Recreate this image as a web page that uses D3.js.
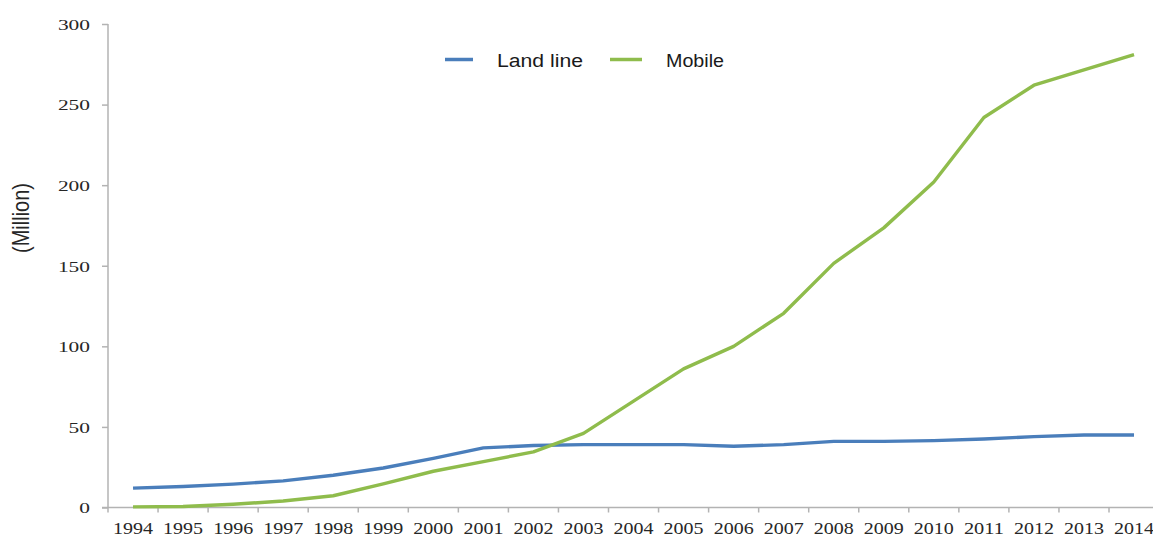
<!DOCTYPE html>
<html>
<head>
<meta charset="utf-8">
<script src="https://cdn.jsdelivr.net/npm/d3@7"></script>
<style>
  html, body { margin: 0; padding: 0; background: #fff; }
  svg { display: block; }
</style>
</head>
<body>
<svg id="chart" width="1153" height="537"></svg>
<script>
// Telephone subscribers by year, in millions
const years = ["1994","1995","1996","1997","1998","1999","2000","2001","2002","2003","2004",
               "2005","2006","2007","2008","2009","2010","2011","2012","2013","2014"];
const landLine = [12, 13, 14.5, 16.5, 20, 24.5, 30.5, 37, 38.5, 39, 39,
                  39, 38, 39, 41, 41, 41.5, 42.5, 44, 45, 45];
const mobile = [0.4, 0.6, 2, 4, 7.3, 14.6, 22.5, 28.5, 34.5, 46, 66,
                86, 100, 120.5, 151.5, 173.5, 202, 242, 262, 271.5, 281];
const yTicks = [0, 50, 100, 150, 200, 250, 300];
const seriesNames = ["Land line", "Mobile"];

const colors = { "Land line": "#4a7ebb", "Mobile": "#8fbc4c" };
const svg = d3.select("#chart");

const plotLeft = 108, plotBottom = 507.5, plotTop = 24;
const step = 50.05;

const x = d3.scaleBand().domain(years).range([plotLeft, plotLeft + step * years.length]).padding(0);
const y = d3.scaleLinear().domain([0, 300]).range([plotBottom, plotTop]);

const axisColor = "#b3b3b3";
const labelColor = "#262626";

// Y axis
const yAxis = svg.append("g")
  .attr("transform", `translate(${plotLeft},0)`)
  .call(d3.axisLeft(y).tickValues(yTicks).tickSize(6).tickPadding(12));
yAxis.select(".domain").attr("stroke", axisColor).attr("stroke-width", 1.5)
  .attr("d", `M0,${plotTop}V${plotBottom}`);
yAxis.selectAll(".tick line").attr("stroke", axisColor).attr("stroke-width", 1.5);
yAxis.selectAll(".tick text")
  .attr("font-family", "'Liberation Serif', 'Times New Roman', serif")
  .attr("font-size", 15.5)
  .attr("fill", labelColor)
  .attr("dy", "0.34em")
  .attr("lengthAdjust", "spacingAndGlyphs")
  .attr("textLength", d => String(d).length * 10.7);

// X axis with ticks between categories
const xAxis = svg.append("g")
  .attr("transform", `translate(0,${plotBottom})`);
xAxis.append("line")
  .attr("x1", plotLeft - 6).attr("x2", 1153)
  .attr("y1", 0).attr("y2", 0)
  .attr("stroke", axisColor).attr("stroke-width", 1.5);
xAxis.selectAll("line.tk")
  .data(years)
  .join("line")
  .attr("class", "tk")
  .attr("x1", d => x(d)).attr("x2", d => x(d))
  .attr("y1", 0).attr("y2", 5)
  .attr("stroke", axisColor).attr("stroke-width", 1.5);
xAxis.selectAll("text.yr")
  .data(years)
  .join("text")
  .attr("class", "yr")
  .attr("x", d => x(d) + x.bandwidth() / 2)
  .attr("y", 26.5)
  .attr("text-anchor", "middle")
  .attr("font-family", "'Liberation Serif', 'Times New Roman', serif")
  .attr("font-size", 16)
  .attr("fill", labelColor)
  .attr("lengthAdjust", "spacingAndGlyphs")
  .attr("textLength", 40)
  .text(d => d);

// Y axis title
svg.append("text")
  .attr("transform", "translate(29,218) rotate(-90) scale(1,1.3)")
  .attr("text-anchor", "middle")
  .attr("font-family", "'Liberation Sans', Arial, sans-serif")
  .attr("font-size", 18)
  .attr("fill", "#262626")
  .attr("lengthAdjust", "spacingAndGlyphs")
  .attr("textLength", 70)
  .text("(Million)");

// Lines
const line = d3.line()
  .x((d, i) => x(years[i]) + x.bandwidth() / 2)
  .y(d => y(d));

[[seriesNames[0], landLine], [seriesNames[1], mobile]].forEach(([name, vals]) => {
  svg.append("path")
    .datum(vals)
    .attr("fill", "none")
    .attr("stroke", colors[name])
    .attr("stroke-width", 3.4)
    .attr("stroke-linejoin", "round")
    .attr("d", line);
});

// Legend
const legendItems = [
  { name: seriesNames[0], x1: 445, x2: 473, tx: 497, w: 86 },
  { name: seriesNames[1], x1: 610, x2: 642, tx: 666, w: 58 }
];
const lg = svg.append("g");
legendItems.forEach(it => {
  lg.append("line")
    .attr("x1", it.x1).attr("x2", it.x2)
    .attr("y1", 59.5).attr("y2", 59.5)
    .attr("stroke", colors[it.name]).attr("stroke-width", 3.5);
  lg.append("text")
    .attr("x", it.tx).attr("y", 67)
    .attr("font-family", "'Liberation Sans', Arial, sans-serif")
    .attr("font-size", 18)
    .attr("fill", "#1a1a1a")
    .attr("lengthAdjust", "spacingAndGlyphs")
    .attr("textLength", it.w)
    .text(it.name);
});
</script>
</body>
</html>
